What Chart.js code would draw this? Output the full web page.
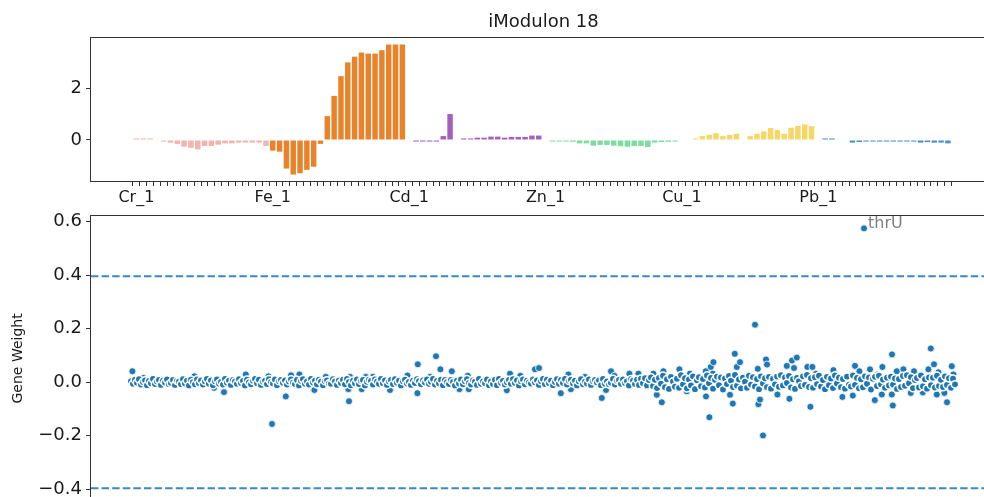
<!DOCTYPE html>
<html>
<head>
<meta charset="utf-8">
<script src="https://cdn.jsdelivr.net/npm/chart.js@4.4.0/dist/chart.umd.min.js"></script>
<style>
  html, body { margin: 0; padding: 0; background: #fff; }
  #figure { position: relative; width: 984px; height: 497px; overflow: hidden; background: #fff; }
  #scatterBox { position: absolute; left: 0; top: 201px; }
  #barBox { position: absolute; left: 0; top: 0; }
</style>
</head>
<body>
<div id="figure">
  <div id="scatterBox"><canvas id="scatterChart" width="1010" height="320"></canvas></div>
  <div id="barBox"><canvas id="barChart" width="1010" height="210"></canvas></div>
</div>
<script>
// activity of iModulon 18 per condition (20 conditions per metal)
const metals = ['Cr', 'Fe', 'Cd', 'Zn', 'Cu', 'Pb'];
const tickLabels = ['Cr_1', 'Fe_1', 'Cd_1', 'Zn_1', 'Cu_1', 'Pb_1'];
const metalColors = ['#f4b3ad', '#e8832a', '#a55fbe', '#7ddca0', '#f6d664', '#4a8fc6'];

const crActivity = [0.06, 0.06, 0.06, 0, -0.06, -0.1, -0.15, -0.26, -0.3, -0.36, -0.23, -0.23, -0.18, -0.13, -0.13, -0.1, -0.1, -0.1, -0.1, -0.23];
const feActivity = [-0.41, -0.45, -1.1, -1.33, -1.28, -1.15, -1.03, -0.15, 0.92, 1.7, 2.46, 2.99, 3.21, 3.37, 3.33, 3.33, 3.46, 3.68, 3.68, 3.68];
const cdActivity = [0, -0.06, -0.06, -0.06, -0.06, 0.15, 1.0, 0, 0.06, 0.06, 0.09, 0.09, 0.13, 0.13, 0.09, 0.12, 0.12, 0.12, 0.17, 0.17];
const znActivity = [0, -0.06, -0.06, -0.06, -0.07, -0.13, -0.13, -0.22, -0.19, -0.19, -0.22, -0.24, -0.26, -0.23, -0.23, -0.27, -0.1, -0.08, -0.07, -0.06];
const cuActivity = [0, 0, 0.06, 0.15, 0.2, 0.26, 0.15, 0.19, 0.24, 0, 0.15, 0.24, 0.33, 0.46, 0.38, 0.24, 0.47, 0.54, 0.6, 0.53];
const pbActivity = [0, 0.06, 0.06, 0, 0, -0.1, -0.08, -0.06, -0.06, -0.06, -0.06, -0.06, -0.06, -0.06, -0.06, -0.1, -0.08, -0.1, -0.1, -0.13];
const activityTicks = [0, 2];

// gene weights, in genome order (dense band around zero)
const bandWeights = [
  .004,-.006,.009,-.002,.011,-.009,.001,.007,-.011,.005,-.004,.012,-.007,.003,.008,-.010,.006,-.001,.010,-.008,
  -.003,.008,-.010,.005,.002,-.007,.011,-.005,.006,-.012,.009,.000,-.008,.010,-.004,.007,-.009,.003,.012,-.006,
  .007,-.011,.004,.010,-.005,.001,-.009,.012,-.002,.006,-.010,.008,.003,-.006,.011,-.003,.005,-.012,.009,-.001,
  -.008,.005,.012,-.004,.009,-.010,.002,.006,-.007,.011,.000,-.005,.010,-.011,.004,.008,-.002,.007,-.009,.003,
  .010,-.002,-.007,.008,-.012,.005,.011,-.006,.003,-.009,.012,-.001,.006,-.008,.009,.002,-.011,.004,.007,-.005,
  -.006,.011,.003,-.010,.007,-.003,.009,-.008,.012,.001,-.011,.006,-.004,.010,-.007,.005,.008,-.012,.002,.009,
  .005,-.009,.010,.002,-.006,.012,-.004,.007,-.010,.003,.008,-.007,.011,-.002,.006,-.012,.004,.009,-.005,.001,
  -.010,.006,-.003,.011,.004,-.008,.007,-.001,.010,-.006,.002,.012,-.009,.005,-.004,.009,-.011,.008,.000,-.007,
  .008,.001,-.012,.006,-.005,.010,-.008,.004,.011,-.003,-.009,.007,.002,-.010,.012,-.006,.003,-.004,.010,-.011,
  .003,-.007,.009,-.011,.012,-.002,.005,-.009,.000,.008,-.006,.011,-.003,.007,-.012,.004,.010,-.008,.006,-.001,
  -.005,.010,-.001,.007,-.010,.004,.012,-.007,.009,-.004,.006,-.011,.001,.011,-.006,.008,-.003,.012,-.009,.005,
  .009,-.004,.006,-.012,.003,.011,-.008,.002,-.005,.010,-.010,.004,.008,-.001,.007,-.011,.012,-.006,.003,-.008,
  -.002,.012,-.009,.005,.008,-.006,.010,-.003,.004,-.012,.011,.006,-.007,.009,-.010,.013,-.004,.015,-.012,.008,
  .018,-.014,.009,-.022,.016,-.006,.024,-.019,.011,-.025,.020,.003,-.017,.013,-.021,.026,-.008,.015,-.023,.010,
  -.012,.022,-.026,.007,.019,-.015,.012,-.020,.025,-.004,.016,-.024,.009,.021,-.011,.018,-.027,.014,-.007,.023,
  .006,-.018,.027,-.013,.010,-.023,.017,.002,-.021,.024,-.009,.019,-.016,.012,-.026,.022,-.005,.015,-.019,.020,
  -.024,.013,-.008,.021,-.017,.026,-.012,.018,-.003,.023,-.020,.011,-.025,.016,.004,-.014,.022,-.010,.027,-.018,
  .015,-.021,.019,-.007,.024,-.016,.008,-.026,.020,-.011,.014,-.022,.025,-.005,.017,-.019,.012,-.024,.021,-.009,
  -.016,.025,-.010,.016,-.023,.011,-.019,.022,-.006,.018,-.027,.013,.020,-.014,.024,-.008,.010,-.021,.017,-.012,
  .021,-.009,.014,-.025,.012,-.018,.023,-.013,.026,-.004,.019,-.022,.008,.016,-.020,.025,-.015,.011,-.024,.018,
  -.011,.017,-.020,.024,-.014,.009,-.018,.022,-.010,.015,-.021,.013,-.008
];

// genes that stand out of the band: position in genome order and weight
const outlierPos = [
  0.7, 6.2, 31.7, 41.5, 46.5, 57.4, 68.7, 70.5, 77.4, 80, 84.2, 91.7, 97.4, 109, 109.5, 108.7, 117.4, 120.9, 115.4, 129.5,
  138.2, 143.4, 143.2, 149.5, 152.5, 154.7, 160.4, 164.2, 168.4, 168.9, 189.5, 187.9, 194.7, 202, 204, 214.9, 218.7, 219.9, 227, 235.4,
  237.5, 240, 241.7, 249.2, 253.7, 261.2, 262.9, 265.4, 266.2, 274.2, 277.9, 279.5, 287.4, 287.5, 289.2, 289.9, 290.9, 291.2, 299.5, 300.9,
  301.9, 302.9, 304.5, 312, 313.4, 313.7, 314.5, 316, 317.5, 318, 323.2, 327.9, 329.2, 330.5, 331.5, 332.9, 338.2, 339.7, 340.7, 342.5,
  351.2, 355.7, 360.9, 362, 364.2, 366.5, 369.5, 371.9, 373.2, 375.4, 375.7, 380.4, 380.5, 380.9, 382.9, 386.2, 389.9, 391.5, 395.9, 398.7,
  399.9, 401.5, 402.9, 403.7, 406.7, 408, 410.4, 411.2
];
const outlierWeights = [
  0.041, 0.016, 0.022, -0.021, -0.037, 0.029, 0.022, -0.156, -0.053, 0.026, 0.029, -0.029, 0.02, -0.071, 0.02, -0.026, 0.02, 0.02, -0.026, -0.029,
  0.025, 0.067, -0.041, 0.02, 0.097, 0.048, 0.041, -0.026, 0.024, -0.026, 0.032, -0.03, 0.024, 0.048, 0.053, -0.041, 0.029, -0.026, 0.02, -0.059,
  -0.029, 0.041, 0.024, 0.032, 0.032, 0.032, -0.047, -0.075, 0.041, 0.048, -0.034, 0.032, 0.041, -0.053, -0.131, 0.057, 0.032, 0.075, -0.047, -0.08,
  0.106, 0.057, 0.075, 0.215, 0.05, -0.082, -0.065, -0.199, 0.085, 0.066, -0.046, 0.061, -0.062, 0.081, 0.053, 0.092, 0.057, -0.092, 0.057, 0.032,
  0.045, -0.055, -0.05, 0.061, 0.041, 0.575, 0.048, -0.067, 0.029, -0.046, 0.057, -0.046, 0.104, -0.087, 0.041, 0.048, -0.04, 0.041, -0.038, 0.048,
  0.126, 0.067, -0.046, 0.037, -0.04, -0.075, 0.06, 0.029
];
const labeledGene = 'thrU';
const thresholds = [0.396, -0.396];
const weightTicks = [-0.4, -0.2, 0, 0.2, 0.4, 0.6];

Chart.defaults.font.family = 'DejaVu Sans';
Chart.defaults.color = '#1a1a1a';
Chart.defaults.animation = false;

const frame = {
    id: 'frame',
    afterDatasetsDraw(chart) {
        const a = chart.chartArea;
        const ctx = chart.ctx;
        ctx.save();
        ctx.strokeStyle = '#333';
        ctx.lineWidth = 1;
        ctx.strokeRect(Math.round(a.left) - 0.5, Math.round(a.top) - 0.5, Math.round(a.right - a.left), Math.round(a.bottom - a.top) + 1);
        ctx.restore();
    }
};

const panelTitle = {
    id: 'panelTitle',
    afterDraw(chart) {
        const a = chart.chartArea;
        const ctx = chart.ctx;
        ctx.save();
        ctx.font = '18px "DejaVu Sans"';
        ctx.fillStyle = '#1a1a1a';
        ctx.textAlign = 'center';
        ctx.textBaseline = 'middle';
        ctx.fillText('iModulon 18', (a.left + a.right) / 2, 22);
        ctx.restore();
    }
};

const thresholdLines = {
    id: 'thresholdLines',
    beforeDatasetsDraw(chart) {
        const a = chart.chartArea;
        const ctx = chart.ctx;
        ctx.save();
        ctx.strokeStyle = '#3b88c2';
        ctx.lineWidth = 2;
        ctx.setLineDash([7.4, 3.2]);
        thresholds.forEach(t => {
            const y = chart.scales.y.getPixelForValue(t);
            ctx.beginPath();
            ctx.moveTo(a.left, y);
            ctx.lineTo(a.right, y);
            ctx.stroke();
        });
        ctx.restore();
    }
};

const geneLabel = {
    id: 'geneLabel',
    afterDatasetsDraw(chart) {
        const top = outlierWeights.indexOf(Math.max(...outlierWeights));
        const x = chart.scales.x.getPixelForValue(outlierPos[top]);
        const y = chart.scales.y.getPixelForValue(outlierWeights[top]);
        const ctx = chart.ctx;
        ctx.save();
        ctx.font = '16px "DejaVu Sans"';
        ctx.fillStyle = '#808080';
        ctx.textBaseline = 'alphabetic';
        ctx.fillText(labeledGene, x + 4, y);
        ctx.restore();
    }
};

const activity = [].concat(crActivity, feActivity, cdActivity, znActivity, cuActivity, pbActivity);
const groupSize = crActivity.length;
const barColors = activity.map((v, i) => metalColors[Math.floor(i / groupSize)]);

new Chart(document.getElementById('barChart'), {
    type: 'bar',
    data: {
        datasets: [{
            data: activity.map((v, i) => ({x: i, y: v})),
            backgroundColor: barColors,
            borderWidth: 0,
            categoryPercentage: 1,
            barPercentage: 0.8
        }]
    },
    options: {
        responsive: false,
        events: [],
        layout: {padding: {top: 38, right: 14, left: 0, bottom: 0}},
        plugins: {legend: {display: false}, tooltip: {enabled: false}},
        scales: {
            x: {
                type: 'linear',
                min: -6.1,
                max: 125.5,
                afterBuildTicks(scale) {
                    scale.ticks = activity.map((v, i) => ({value: i}));
                },
                afterFit(scale) {
                    scale.height = 29;
                },
                grid: {drawOnChartArea: false, drawTicks: true, tickLength: 5, tickColor: '#333'},
                border: {display: false},
                ticks: {
                    autoSkip: false,
                    maxRotation: 0,
                    padding: 2,
                    font: {size: 16},
                    callback: value => value % groupSize === 0 ? tickLabels[value / groupSize] : ''
                }
            },
            y: {
                min: -1.58,
                max: 3.93,
                afterBuildTicks(scale) {
                    scale.ticks = activityTicks.map(v => ({value: v}));
                },
                afterFit(scale) {
                    scale.width = 91;
                },
                grid: {drawOnChartArea: false, drawTicks: true, tickLength: 5, tickColor: '#333'},
                border: {display: false},
                ticks: {padding: 4, font: {size: 18}}
            }
        }
    },
    plugins: [frame, panelTitle]
});

new Chart(document.getElementById('scatterChart'), {
    type: 'scatter',
    data: {
        datasets: [{
            data: bandWeights.map((w, k) => ({x: k, y: w})),
            pointRadius: 3.7,
            pointBackgroundColor: '#1f77b4',
            pointBorderColor: '#ffffff',
            pointBorderWidth: 1.5
        }, {
            data: outlierPos.map((p, i) => ({x: p, y: outlierWeights[i]})),
            pointRadius: 3.5,
            pointBackgroundColor: '#1f77b4',
            pointBorderColor: '#ffffff',
            pointBorderWidth: 0.8
        }]
    },
    options: {
        responsive: false,
        events: [],
        layout: {padding: {top: 14, right: 14, left: 0, bottom: 20}},
        plugins: {legend: {display: false}, tooltip: {enabled: false}},
        scales: {
            x: {type: 'linear', min: -20, max: 432.5, display: false},
            y: {
                min: -0.444,
                max: 0.622,
                afterBuildTicks(scale) {
                    scale.ticks = weightTicks.map(v => ({value: v}));
                },
                afterFit(scale) {
                    scale.width = 91;
                },
                grid: {drawOnChartArea: false, drawTicks: true, tickLength: 5, tickColor: '#333'},
                border: {display: false},
                ticks: {
                    padding: 4,
                    font: {size: 18},
                    callback: value => value.toFixed(1).replace('-', '\u2212')
                },
                title: {display: true, text: 'Gene Weight', font: {size: 14}, padding: {top: 10, bottom: 0}}
            }
        }
    },
    plugins: [thresholdLines, frame, geneLabel]
});
</script>
</body>
</html>
